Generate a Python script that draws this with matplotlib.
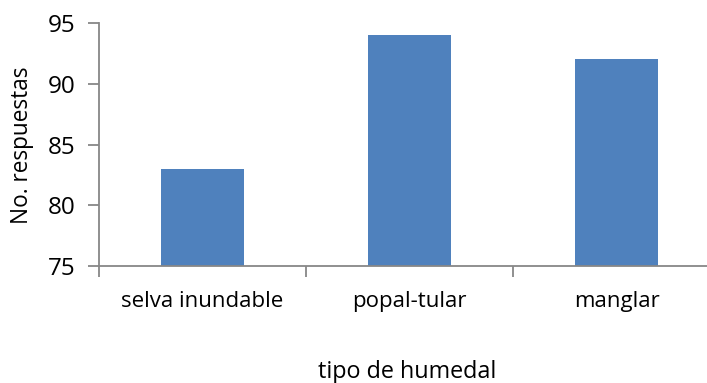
import matplotlib
matplotlib.use("Agg")
import matplotlib.pyplot as plt

categories = ["selva inundable", "popal-tular", "manglar"]
values = [83, 94, 92]
yticks = [75, 80, 85, 90, 95]

plt.rcParams['font.family'] = ['Open Sans', 'DejaVu Sans']
W, H = 707, 383
fig = plt.figure(figsize=(W/100, H/100), dpi=100)
left, right, top, bottom = 99, 720, 23, 266
ax = fig.add_axes([left/W, 1 - bottom/H, (right-left)/W, (bottom-top)/H])
x = range(len(categories))
ax.bar(x, values, width=0.4, color="#4F81BD", zorder=2)
ax.set_ylim(75, 95)
ax.set_xlim(-0.5, 2.5)
ax.set_yticks(yticks)
ax.set_yticklabels([str(v) for v in yticks], fontsize=17.5)
ax.set_xticks([0.5, 1.5, -0.5], minor=False)
ax.set_xticklabels([])
ax.set_xticks(list(x), minor=True)
ax.set_xticklabels(categories, minor=True, fontsize=16)
ax.tick_params(axis='x', which='minor', length=0, pad=18)
ax.tick_params(axis='x', which='major', length=8, color="#878787", width=1.3)
ax.tick_params(axis='y', length=8, color="#878787", width=1.3, pad=9)
for s in ['top', 'right']:
    ax.spines[s].set_visible(False)
for s in ['left', 'bottom']:
    ax.spines[s].set_color("#878787")
    ax.spines[s].set_linewidth(1.3)
fig.text(22/W, 1 - 145/H, "No. respuestas", fontsize=16.3, ha='center', va='center', rotation=90)
fig.text(407/W, 1 - 372/H, "tipo de humedal", fontsize=16.8, ha='center', va='center')
fig.savefig("out.png", dpi=100)
